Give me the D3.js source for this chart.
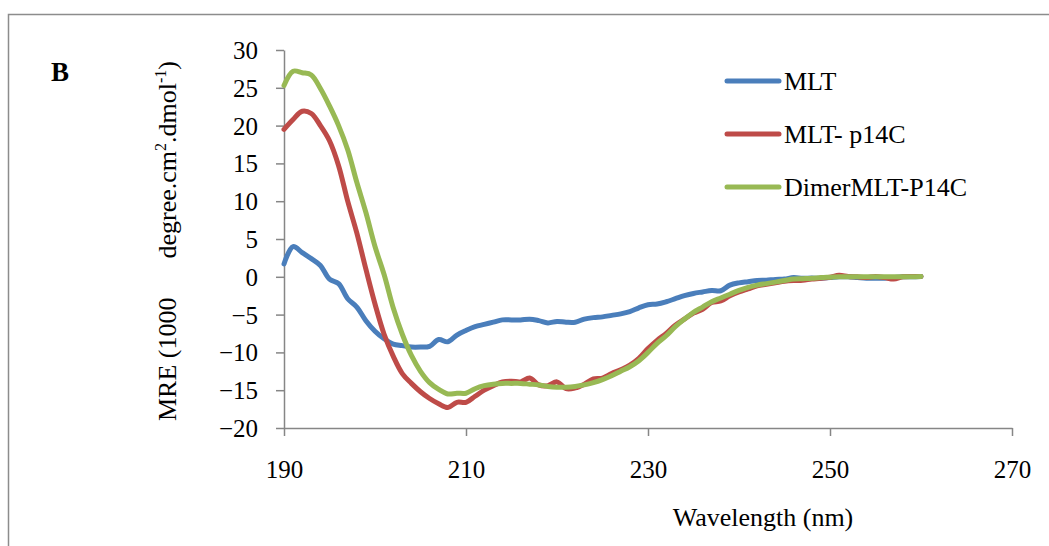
<!DOCTYPE html>
<html>
<head>
<meta charset="utf-8">
<script src="https://cdn.jsdelivr.net/npm/d3@7"></script>
<style>
  body { margin: 0; background: #fff; }
  text { font-family: "Liberation Serif", "DejaVu Serif", serif; fill: #000; }
</style>
</head>
<body>
<div id="chart"></div>
<script>
// wavelengths 190..260 nm, one reading per nm
const startNm = 190;
const mlt = [1.7, 4.0, 3.2, 2.4, 1.5, -0.3, -0.9, -2.9, -4.0, -5.8,
  -7.2, -8.2, -8.9, -9.1, -9.3, -9.3, -9.2, -8.3, -8.6, -7.7,
  -7.1, -6.6, -6.3, -6.0, -5.7, -5.7, -5.7, -5.6, -5.8, -6.1,
  -5.9, -6.0, -6.0, -5.6, -5.4, -5.3, -5.1, -4.9, -4.6, -4.1,
  -3.7, -3.6, -3.3, -2.9, -2.5, -2.2, -2.0, -1.8, -1.85, -1.1,
  -0.8, -0.65, -0.5, -0.45, -0.35, -0.3, -0.1, -0.2, -0.15, -0.2,
  -0.1, 0, 0, -0.1, -0.2, -0.2, -0.2, -0.1, 0, 0, 0.05];
const mltP14C = [19.5, 20.8, 21.9, 21.6, 20.0, 18.0, 14.7, 10.0, 5.8, 1.0,
  -3.6, -7.6, -10.5, -12.8, -14.1, -15.2, -16.1, -16.8, -17.3, -16.6,
  -16.6, -15.8, -15.0, -14.4, -13.9, -13.8, -13.9, -13.4, -14.3, -14.4,
  -13.9, -14.8, -14.7, -14.2, -13.5, -13.4, -12.8, -12.3, -11.7, -10.8,
  -9.5, -8.4, -7.5, -6.4, -5.6, -4.8, -4.3, -3.4, -3.2, -2.5,
  -2.0, -1.6, -1.2, -1.0, -0.8, -0.6, -0.5, -0.45, -0.3, -0.2,
  -0.05, 0.2, 0.05, 0, -0.1, 0.05, -0.1, -0.3, 0, 0.05, 0.05];
const dimer = [25.3, 27.2, 27.0, 26.7, 24.9, 22.6, 20.0, 16.8, 12.5, 8.5,
  4.0, 0.3, -4.1, -7.6, -10.4, -12.5, -14.0, -14.9, -15.5, -15.4,
  -15.4, -14.8, -14.4, -14.2, -14.1, -14.1, -14.1, -14.2, -14.3, -14.5,
  -14.6, -14.6, -14.5, -14.3, -14.0, -13.6, -13.1, -12.5, -11.9, -11.1,
  -10.0, -8.8, -7.8, -6.6, -5.6, -4.7, -4.0, -3.3, -2.8, -2.3,
  -1.8, -1.4, -1.1, -0.9, -0.7, -0.5, -0.3, -0.25, -0.2, -0.1,
  -0.05, 0, 0, 0, 0, 0, 0, 0, 0, 0, 0.05];

const seriesNames = ["MLT", "MLT- p14C", "DimerMLT-P14C"];
const seriesColors = ["#4a7ebb", "#be4b48", "#98b954"];
const seriesValues = [mlt, mltP14C, dimer];

const xTicks = [190, 210, 230, 250, 270];
const yTicks = [30, 25, 20, 15, 10, 5, 0, -5, -10, -15, -20];

const width = 1049, height = 546;
const plot = { left: 284, right: 1012, top: 50, bottom: 428 };

const svg = d3.select("#chart").append("svg")
  .attr("width", width)
  .attr("height", height);

// outer frame
svg.append("rect")
  .attr("x", 8.5).attr("y", 14.5)
  .attr("width", 1100).attr("height", 600)
  .attr("fill", "none")
  .attr("stroke", "#8c8c8c")
  .attr("stroke-width", 1.5);

const x = d3.scaleLinear().domain([190, 270]).range([plot.left, plot.right]);
const y = d3.scaleLinear().domain([-20, 30]).range([plot.bottom, plot.top]);

// x axis at y = -20
const xAxis = svg.append("g")
  .attr("transform", `translate(0,${plot.bottom})`)
  .call(d3.axisBottom(x).tickValues(xTicks).tickSize(8).tickPadding(24).tickSizeOuter(0));
// y axis
const yAxis = svg.append("g")
  .attr("transform", `translate(${plot.left},0)`)
  .call(d3.axisLeft(y).tickValues(yTicks).tickSize(8).tickPadding(18).tickSizeOuter(0)
    .tickFormat(d3.format("d")));

[xAxis, yAxis].forEach(g => {
  g.select(".domain").attr("stroke", "#868686").attr("stroke-width", 1.5);
  g.selectAll(".tick line").attr("stroke", "#868686").attr("stroke-width", 1.5);
  g.selectAll(".tick text")
    .style("font-family", "'Liberation Serif', serif")
    .style("font-size", "25px")
    .attr("fill", "#000");
});
yAxis.selectAll(".tick text").attr("dy", "0.34em");

// lines
const line = d3.line()
  .x((d, i) => x(startNm + i))
  .y(d => y(d))
  .curve(d3.curveCatmullRom);

seriesValues.forEach((vals, k) => {
  svg.append("path")
    .datum(vals)
    .attr("fill", "none")
    .attr("stroke", seriesColors[k])
    .attr("stroke-width", 5)
    .attr("stroke-linejoin", "round")
    .attr("stroke-linecap", "round")
    .attr("d", line);
});

// legend
const legendY = [81, 134, 187];
seriesNames.forEach((name, k) => {
  svg.append("line")
    .attr("x1", 727).attr("x2", 779)
    .attr("y1", legendY[k]).attr("y2", legendY[k])
    .attr("stroke", seriesColors[k])
    .attr("stroke-width", 5)
    .attr("stroke-linecap", "round");
  svg.append("text")
    .attr("x", 784).attr("y", legendY[k] + 9)
    .style("font-size", "26px")
    .text(name);
});

// panel label
svg.append("text")
  .attr("x", 51).attr("y", 81)
  .style("font-size", "27px")
  .style("font-weight", "bold")
  .text("B");

// axis titles
svg.append("text")
  .attr("x", 763).attr("y", 526)
  .attr("text-anchor", "middle")
  .style("font-size", "26px")
  .text("Wavelength (nm)");

const yt = svg.append("text")
  .attr("transform", "translate(176,241) rotate(-90)")
  .attr("text-anchor", "middle")
  .style("font-size", "26px")
  .attr("xml:space", "preserve");
yt.append("tspan").text("MRE (1000\u00a0\u00a0\u00a0\u00a0\u00a0\u00a0degree.cm");
yt.append("tspan").attr("dy", -10).style("font-size", "16px").text("2");
yt.append("tspan").attr("dy", 10).text(".dmol");
yt.append("tspan").attr("dy", -10).style("font-size", "16px").text("-1");
yt.append("tspan").attr("dy", 10).text(")");
</script>
</body>
</html>
